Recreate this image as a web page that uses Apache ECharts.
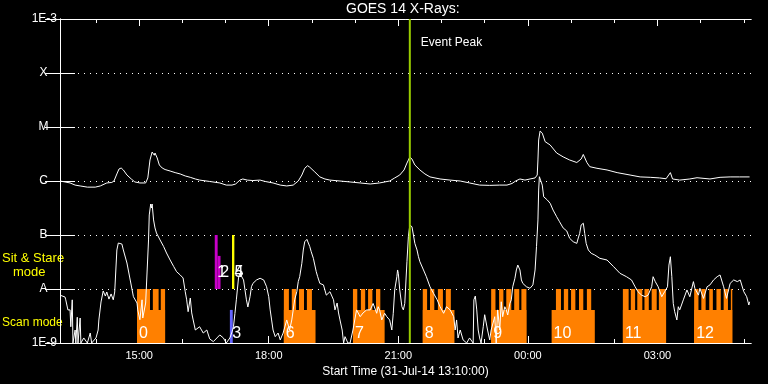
<!DOCTYPE html>
<html><head><meta charset="utf-8">
<script src="https://cdn.jsdelivr.net/npm/echarts@6/dist/echarts.min.js"></script>
<style>html,body{margin:0;padding:0;background:#000}#c{width:768px;height:384px}</style>
</head><body><div id="c"></div>
<script>
// ---- data (time in minutes after 31-Jul-14 13:10:00, flux in W/m^2) ----
const titleText = 'GOES 14 X-Rays:';
const startLabel = 'Start Time (31-Jul-14 13:10:00)';
const startMinuteOfDay = 13 * 60 + 10;
const spanMinutes = 960;
const hourTicks = [50,110,170,230,290,350,410,470,530,590,650,710,770,830,890,950];
const labelTicks = [110,290,470,650,830];
const yClassNames = {'-3':'1E-3','-4':'X','-5':'M','-6':'C','-7':'B','-8':'A','-9':'1E-9'};

const longChannel = [[0,1.0e-6],[7,9.6e-7],[14,9.2e-7],[21,8.4e-7],[28,8.1e-7],[38,7.7e-7],[49,7.7e-7],[56,8.1e-7],[58,8.8e-7],[65,9.2e-7],[72,9.4e-7],[75,1.0e-6],[79,1.35e-6],[82,1.67e-6],[85,1.74e-6],[88,1.6e-6],[93,1.29e-6],[99,1.09e-6],[104,9.6e-7],[111,9.2e-7],[119,9.2e-7],[122,1.14e-6],[125,2.45e-6],[128,3.44e-6],[131,3.0e-6],[132,3.3e-6],[135,2.67e-6],[138,1.98e-6],[142,1.74e-6],[146,1.63e-6],[153,1.53e-6],[160,1.43e-6],[167,1.35e-6],[174,1.24e-6],[181,1.17e-6],[188,1.09e-6],[194,1.04e-6],[208,9.8e-7],[222,9.2e-7],[231,8.4e-7],[239,8.4e-7],[244,8.8e-7],[250,1.04e-6],[254,1.09e-6],[260,1.04e-6],[268,1.02e-6],[278,1.04e-6],[285,9.8e-7],[296,9.2e-7],[306,8.4e-7],[315,8.1e-7],[324,8.4e-7],[331,1.0e-6],[336,1.29e-6],[340,1.72e-6],[344,1.92e-6],[347,1.8e-6],[354,1.47e-6],[361,1.19e-6],[368,1.09e-6],[375,1.04e-6],[389,1.0e-6],[403,9.6e-7],[417,9.2e-7],[431,8.8e-7],[444,9.2e-7],[458,1.0e-6],[465,1.14e-6],[472,1.29e-6],[478,1.6e-6],[482,2.15e-6],[486,2.78e-6],[489,2.55e-6],[493,1.98e-6],[500,1.6e-6],[507,1.35e-6],[514,1.19e-6],[528,1.09e-6],[542,1.04e-6],[556,1.0e-6],[569,9.2e-7],[583,8.4e-7],[597,8.3e-7],[611,8.4e-7],[621,8.4e-7],[628,9.0e-7],[633,1.0e-6],[639,1.09e-6],[646,1.04e-6],[653,1.09e-6],[660,1.14e-6],[663,1.29e-6],[664,2.45e-6],[665,5.75e-6],[667,8.43e-6],[670,7.7e-6],[674,5.35e-6],[681,4.64e-6],[690,3.3e-6],[699,2.8e-6],[708,2.45e-6],[718,2.2e-6],[724,2.55e-6],[727,3.1e-6],[732,2.2e-6],[736,1.84e-6],[746,1.72e-6],[760,1.6e-6],[774,1.43e-6],[792,1.29e-6],[806,1.19e-6],[820,1.17e-6],[833,1.14e-6],[842,1.1e-6],[848,1.43e-6],[851,1.09e-6],[861,1.04e-6],[875,1.09e-6],[885,1.15e-6],[903,1.09e-6],[917,1.17e-6],[931,1.19e-6],[944,1.19e-6],[958,1.19e-6]];

const shortChannel = [[0,7.7e-9],[7,7.1e-9],[8,6.3e-9],[11,4.1e-9],[14,4.1e-9],[15,2.0e-9],[17,6.3e-9],[18,1e-9],[21,1.74e-9],[22,1e-9],[24,3.0e-9],[25,1e-9],[28,2.9e-9],[29,1e-9],[33,1.24e-9],[38,1e-9],[42,1.53e-9],[44,1e-9],[50,1.24e-9],[53,1.74e-9],[54,2.67e-9],[57,5.75e-9],[60,9.2e-9],[63,7.4e-9],[65,8.8e-9],[68,6.5e-9],[71,8.1e-9],[74,6.3e-9],[76,8.8e-9],[79,5.28e-8],[81,7.1e-8],[83,7.5e-8],[86,6.8e-8],[88,5.28e-8],[93,3.03e-8],[97,1.6e-8],[102,7.2e-9],[107,5.5e-9],[108,4.1e-9],[111,2.7e-9],[114,6.3e-9],[115,2.9e-9],[119,5.5e-9],[123,8.1e-8],[124,2.35e-7],[126,3.75e-7],[127,3.16e-7],[128,3.75e-7],[130,1.9e-7],[132,1.35e-7],[134,1.09e-7],[139,8.1e-8],[144,6.1e-8],[148,4.64e-8],[153,3.44e-8],[158,2.6e-8],[162,2.09e-8],[167,1.82e-8],[171,1.6e-8],[174,8.9e-9],[176,6.3e-9],[178,3.8e-9],[181,6.8e-9],[183,3.6e-9],[185,2.67e-9],[188,1.74e-9],[190,1.6e-9],[194,2.0e-9],[199,1.53e-9],[204,1.74e-9],[208,1.19e-9],[213,1.06e-9],[218,1.24e-9],[222,1.41e-9],[227,1.24e-9],[231,1e-9],[236,1.24e-9],[239,1.6e-9],[241,2.0e-9],[243,3.5e-9],[245,6.3e-9],[248,1.6e-8],[250,1.95e-8],[252,1.82e-8],[255,1.47e-8],[257,9.6e-9],[259,6.3e-9],[261,4.64e-9],[264,7.2e-9],[266,1.1e-8],[268,1.27e-8],[273,1.47e-8],[278,1.58e-8],[283,1.47e-8],[287,1.1e-8],[290,7.2e-9],[292,4.1e-9],[294,2.67e-9],[296,1.74e-9],[299,1.31e-9],[303,1.53e-9],[306,1.14e-9],[310,1.53e-9],[315,2.67e-9],[319,1.74e-9],[322,2.67e-9],[324,4.1e-9],[326,6.3e-9],[329,8.9e-9],[331,1.37e-8],[333,1.69e-8],[336,3.0e-8],[338,5.28e-8],[340,7.5e-8],[343,8.3e-8],[345,8.1e-8],[347,6.1e-8],[349,4.9e-8],[352,3.7e-8],[354,2.78e-8],[356,2.09e-8],[358,1.69e-8],[361,1.27e-8],[366,1.19e-8],[370,7.7e-9],[375,8.9e-9],[380,6.3e-9],[382,4.1e-9],[385,5.5e-9],[387,3.6e-9],[389,2.67e-9],[392,1.74e-9],[394,1e-9],[396,1.31e-9],[400,1e-9],[403,1e-9],[407,1.74e-9],[412,4.1e-9],[417,3.07e-9],[421,3.6e-9],[426,4.1e-9],[431,4.1e-9],[435,5.4e-9],[440,3.55e-9],[442,4.7e-9],[444,4.1e-9],[447,2.67e-9],[449,3.07e-9],[451,3.55e-9],[454,3.07e-9],[458,2.67e-9],[461,1.74e-9],[463,3.55e-9],[465,9.6e-9],[468,1.69e-8],[469,2.25e-8],[470,1.95e-8],[472,9.6e-9],[475,4.7e-9],[477,4.1e-9],[479,5.4e-9],[482,3.2e-8],[484,9.3e-8],[486,1.53e-7],[489,1.42e-7],[491,1.0e-7],[493,7.0e-8],[496,5.28e-8],[498,3.96e-8],[500,3.2e-8],[505,2.25e-8],[509,1.69e-8],[514,1.1e-8],[519,8.3e-9],[524,6.3e-9],[528,4.7e-9],[533,3.55e-9],[537,4.7e-9],[542,4.1e-9],[547,3.07e-9],[549,1.74e-9],[551,2.67e-9],[553,1.24e-9],[556,1.74e-9],[560,1.14e-9],[565,1e-9],[569,1.24e-9],[574,1e-9],[575,6.3e-9],[577,7.4e-9],[579,4.1e-9],[581,1.74e-9],[583,1.24e-9],[585,1e-9],[588,2.0e-9],[590,3.34e-9],[592,3.55e-9],[594,1.74e-9],[597,1.14e-9],[599,1.74e-9],[601,1.74e-9],[604,3.07e-9],[606,1e-9],[608,4.1e-9],[611,1.74e-9],[613,5.8e-9],[615,3.07e-9],[618,4.7e-9],[620,4.1e-9],[622,3.3e-9],[625,5.4e-9],[627,6.3e-9],[629,1.1e-8],[632,1.58e-8],[634,2.25e-8],[636,2.78e-8],[639,2.25e-8],[641,1.47e-8],[643,1.27e-8],[648,1.1e-8],[653,1.03e-8],[655,1.1e-8],[657,1.19e-8],[660,2.25e-8],[662,6.1e-8],[664,1.9e-7],[665,6.8e-7],[666,1.2e-6],[667,1.2e-6],[670,8.4e-7],[672,5.1e-7],[677,4.45e-7],[681,3.86e-7],[685,2.9e-7],[690,2.18e-7],[694,1.76e-7],[699,1.35e-7],[704,1.19e-7],[708,8.7e-8],[713,7.5e-8],[718,7.0e-8],[720,8.8e-8],[722,1.07e-7],[724,1.53e-7],[727,1.65e-7],[729,1.07e-7],[731,7.0e-8],[734,5.28e-8],[738,4.58e-8],[743,4.26e-8],[750,3.7e-8],[760,3.44e-8],[769,2.6e-8],[778,1.95e-8],[787,1.69e-8],[794,1.47e-8],[799,1.1e-8],[803,8.9e-9],[808,7.7e-9],[813,7.2e-9],[817,7.7e-9],[822,1.1e-8],[824,1.69e-8],[827,1.37e-8],[831,1.1e-8],[836,7.2e-9],[840,8.9e-9],[844,1.1e-8],[846,2.78e-8],[848,3.96e-8],[850,1.69e-8],[852,5.4e-9],[854,3.8e-9],[857,2.67e-9],[859,4.7e-9],[861,4.1e-9],[866,6.3e-9],[871,9.6e-9],[875,7.2e-9],[880,1.37e-8],[882,1.03e-8],[887,7.7e-9],[889,1.03e-8],[894,6.7e-9],[899,1.1e-8],[903,1.19e-8],[908,1.47e-8],[913,1.69e-8],[917,1.82e-8],[922,1.1e-8],[926,6.7e-9],[931,1.27e-8],[936,1.47e-8],[941,1.37e-8],[945,1.47e-8],[950,8.9e-9],[954,7.2e-9],[957,5.05e-9],[958,5.8e-9]];

// scan-mode observations: id, body [start,end], raster teeth
const scanIds = ['0','6','7','8','9','10','11','12'];
const scanBodies = [[107,146],[311,355],[407,451],[504,548],[599,648],[683,743],[782,842],[881,934]];
const scanTeeth = [
  [[107,125],[129,137],[140,146]],
  [[311,318],[322,328],[332,339],[343,350]],
  [[407,413],[418,424],[428,434],[439,445]],
  [[504,510],[514,520],[525,532],[536,543]],
  [[599,605],[610,616],[620,627],[631,638],[641,648]],
  [[689,696],[700,706],[710,716],[721,727],[732,738]],
  [[782,790],[793,799],[802,809],[812,818],[822,829],[832,842]],
  [[881,887],[891,897],[902,907],[912,918],[922,928],[932,934]]
];
// other observations: id, start, end, band ('stare' = A..B, 'scan' = below A), top level
const otherIds = ['1','2','4','5','3'];
const otherSpans = [[215,219],[219,223],[239,242],[239,242],[236,240]];
const otherBands = ['stare','stare','stare','stare','scan'];
const otherTops = [1e-7,4.1e-8,1e-7,1e-7,4.1e-9];
const eventPeak = 486;

// ---- styles ----
const FLOOR = 1e-9, BODY_TOP = 4.1e-9, TOOTH_TOP = 1e-8;
const ORANGE = '#ff8000';
const obsColors = {'1':'#c800c8','2':'#c800c8','4':'#ffff00','5':'#ffff00','3':'#6464ff'};
const FONT = '"Liberation Sans", Arial, sans-serif';

function fmtTime(m){
  const t = (startMinuteOfDay + m) % 1440;
  const h = Math.floor(t/60), mm = t % 60;
  return String(h).padStart(2,'0') + ':' + String(mm).padStart(2,'0');
}

function rectBetween(api, x0, y0, x1, y1, fill){
  const a = api.coord([x0, y1]), b = api.coord([x1, y0]);
  return {type:'rect', shape:{x:a[0], y:a[1], width:b[0]-a[0], height:b[1]-a[1]}, style:{fill:fill}};
}

function renderScan(params, api){
  const i = api.value(2);
  const b = scanBodies[i];
  const ch = [rectBetween(api, b[0], FLOOR, b[1], BODY_TOP, ORANGE)];
  scanTeeth[i].forEach(t => ch.push(rectBetween(api, t[0], FLOOR, t[1], TOOTH_TOP, ORANGE)));
  const p = api.coord([b[0], FLOOR]);
  ch.push({type:'text', z2:10, style:{text:scanIds[i], x:p[0]+2, y:p[1]-9, fill:'#fff', font:'16px ' + FONT, align:'left', verticalAlign:'middle'}});
  return {type:'group', children:ch};
}

function renderOther(params, api){
  const i = api.value(2);
  const s = otherSpans[i];
  const base = otherBands[i] === 'stare' ? 1e-8 : FLOOR;
  const id = otherIds[i];
  const ch = [rectBetween(api, s[0], base, s[1], otherTops[i], obsColors[id])];
  const p = api.coord([s[0], base]);
  ch.push({type:'text', z2:10, style:{text:id, x:p[0]+2.5, y:p[1] - (otherBands[i]==='stare'?16:9), fill:'#fff', font:'16px ' + FONT, align:'left', verticalAlign:'middle'}});
  return {type:'group', children:ch};
}

function renderEvent(params, api){
  const t = api.value(0);
  const a = api.coord([t, 1e-3]), b = api.coord([t, FLOOR]);
  return {type:'group', children:[
    {type:'line', shape:{x1:a[0], y1:a[1], x2:b[0], y2:b[1]}, style:{stroke:'#99cc00', lineWidth:2}},
    {type:'text', style:{text:'Event Peak', x:a[0]+11, y:a[1]+24, fill:'#fff', font:'12px ' + FONT, align:'left', verticalAlign:'middle'}}
  ]};
}

const white = '#ffffff';
function xAxisDef(pos, ticks, len, withLabels){
  return {
    type:'value', position:pos, min:0, max:spanMinutes,
    axisLine:{show:true, onZero:false, lineStyle:{color:white, width:1}},
    axisTick:{show:true, inside:true, length:len, customValues:ticks, lineStyle:{color:white}},
    axisLabel:withLabels ? {show:true, customValues:labelTicks, formatter:fmtTime, color:white, fontFamily:FONT, fontSize:11, margin:7} : {show:false},
    splitLine:{show:false},
    name: withLabels ? startLabel : '', nameLocation:'middle', nameGap:21,
    nameTextStyle:{color:white, fontFamily:FONT, fontSize:12}
  };
}

const chart = echarts.init(document.getElementById('c'), null, {renderer:'canvas'});
chart.setOption({
  backgroundColor:'#000',
  animation:false,
  title:{text:titleText, left:346, top:2, padding:0, textStyle:{color:white, fontFamily:FONT, fontSize:14, fontWeight:'normal'}},
  grid:{left:60, right:17, top:19, bottom:41, containLabel:false},
  xAxis:[
    xAxisDef('bottom', hourTicks, 4, true),
    xAxisDef('bottom', labelTicks, 7, false),
    xAxisDef('top', hourTicks, 4, false),
    xAxisDef('top', labelTicks, 7, false)
  ],
  yAxis:[
    {type:'log', logBase:10, min:1e-9, max:1e-3, interval:1, position:'left',
     axisLine:{show:true, lineStyle:{color:white}},
     axisTick:{show:true, inside:true, length:15, lineStyle:{color:white}},
     axisLabel:{color:white, fontFamily:FONT, fontSize:12, margin:3,
       formatter:v => { const k = String(Math.round(Math.log10(v))); const s = yClassNames[k]; return (s.length > 1 ? '{e|' : '{c|') + s + '}'; },
       rich:{e:{width:27, align:'right', color:white, fontFamily:FONT, fontSize:12}, c:{width:27, align:'center', color:white, fontFamily:FONT, fontSize:12}}},
     splitLine:{show:true, lineStyle:{color:white, type:[1,5], width:1}}},
    {type:'log', logBase:10, min:1e-9, max:1e-3, interval:1, position:'right',
     axisLine:{show:true, lineStyle:{color:white}},
     axisTick:{show:true, inside:true, length:15, lineStyle:{color:white}},
     axisLabel:{show:false}, splitLine:{show:false}}
  ],
  graphic:[
    {type:'text', left:2, top:252, style:{text:'Sit & Stare', fill:'#ffff00', font:'13px ' + FONT}},
    {type:'text', left:13, top:266, style:{text:'mode', fill:'#ffff00', font:'13px ' + FONT}},
    {type:'text', left:2, top:317, style:{text:'Scan mode', fill:'#ffff00', font:'12px ' + FONT}}
  ],
  series:[
    {type:'custom', name:'scan', renderItem:renderScan, xAxisIndex:0, yAxisIndex:0, z:1,
     encode:{x:[0,1], y:3}, data:scanBodies.map((b,i)=>[b[0], b[1], i, FLOOR])},
    {type:'custom', name:'other', renderItem:renderOther, xAxisIndex:0, yAxisIndex:0, z:1,
     encode:{x:[0,1], y:3}, data:otherSpans.map((s,i)=>[s[0], s[1], i, FLOOR])},
    {type:'line', name:'1-8 A', data:longChannel, showSymbol:false, z:3,
     lineStyle:{color:white, width:1}, itemStyle:{color:white}},
    {type:'line', name:'0.5-4 A', data:shortChannel, showSymbol:false, z:3,
     lineStyle:{color:white, width:1}, itemStyle:{color:white}},
    {type:'custom', name:'event', renderItem:renderEvent, z:4, encode:{x:0, y:1}, data:[[eventPeak, FLOOR]]}
  ]
});
</script></body></html>
